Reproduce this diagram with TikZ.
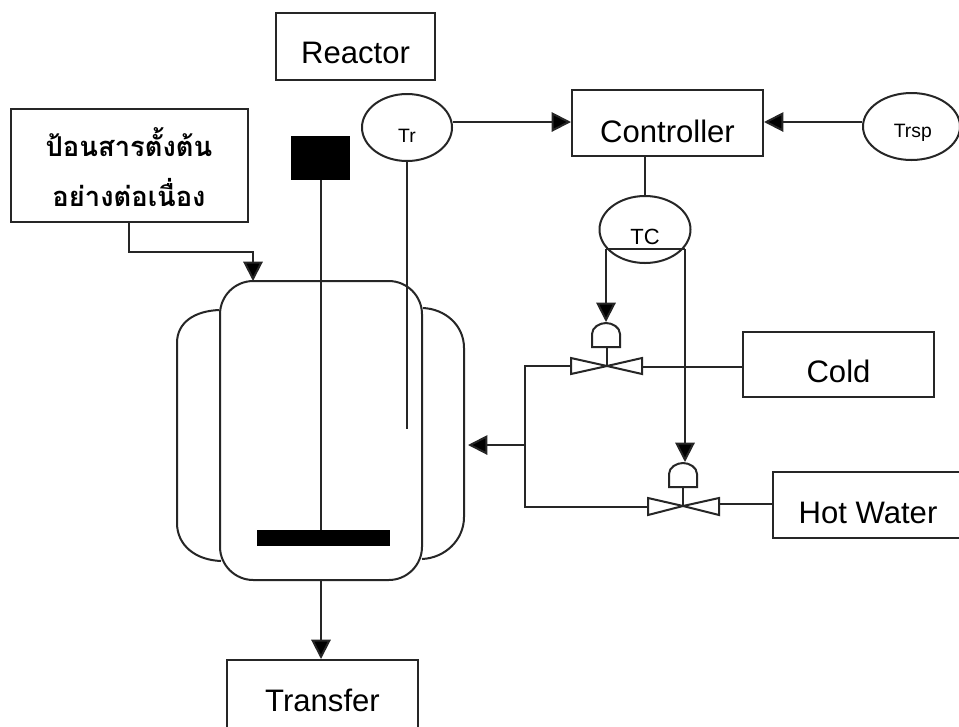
\documentclass[tikz,border=0pt]{standalone}
\usepackage{fontspec}
\setmainfont{Liberation Sans}
\newfontfamily\thaifont[Script=Thai]{Loma}
\usetikzlibrary{shapes.geometric,arrows.meta,calc}
\newcommand{\dropped}[2]{\raisebox{-#1}[\height][\depth]{#2}}
\tikzset{
  line/.style={draw=black!85,line width=1.5pt},
  flow/.style={line,-{Triangle[length=14.5pt,width=14.5pt,fill=black]}},
  boxed/.style={line,rectangle,inner sep=0pt,font=\fontsize{23.3}{26}\selectfont},
  sensor/.style={line,ellipse,inner sep=0pt,font=\fontsize{14.5}{16}\selectfont},
  solid block/.style={fill=black,draw=none,rectangle,inner sep=0pt},
  valvepart/.style={line,fill=white,line join=miter}
}
\begin{document}
\begin{tikzpicture}[x=0.75pt,y=-0.75pt]
\useasboundingbox (0,0) rectangle (959,726);
\fill[white] (0,0) rectangle (959,726);
% boxes
\node[boxed,minimum width=119.25pt,minimum height=50.25pt] (reactor) at (355.5,46.5) {\dropped{5pt}{Reactor}};
\node[boxed,minimum width=143.25pt,minimum height=49.5pt] (controller) at (667.5,123) {\dropped{6.5pt}{Controller}};
\node[boxed,minimum width=177.75pt,minimum height=84.75pt] (feed) at (129,165.5) {};
\node[inner sep=0pt,align=center,font=\thaifont\bfseries\fontsize{20.5}{38}\selectfont] (feedlabel) at (129,167) {ป้อนสารตั้งต้น\\อย่างต่อเนื่อง};
\node[boxed,minimum width=143.25pt,minimum height=48.75pt] (cold) at (838.5,364.5) {\dropped{5.5pt}{Cold}};
\node[boxed,minimum width=142.5pt,minimum height=49.5pt] (hot) at (868,505) {\dropped{6pt}{Hot Water}};
\node[boxed,minimum width=143.25pt,minimum height=60pt] (transfer) at (322.5,700) {Transfer};
% sensors
\node[sensor,minimum width=67.5pt,minimum height=50.25pt] (tr) at (407,127.5) {\dropped{6.4pt}{Tr}};
\node[sensor,minimum width=72.75pt,minimum height=50.25pt] (trsp) at (911.5,126.5) {\dropped{5pt}{\hspace{2pt}Trsp}};
\node[sensor,minimum width=68.25pt,minimum height=50.25pt] (tc) at (645,229.5) {};
\node[inner sep=0pt,font=\fontsize{16.5}{18}\selectfont] (tclabel) at (645,237) {TC};
\coordinate (tcl) at (606,249);
\coordinate (tcr) at (685,249);
\draw[line] (tcl) -- (tcr);
% vessel
\node[line,rectangle,rounded corners=25pt,minimum width=151.5pt,minimum height=224.25pt,inner sep=0pt] (vessel) at (321,430.5) {};
\draw[line] ($(vessel.north west)+(0,30)$) .. controls (195,311) and (177,322) .. (177,343) -- (177,523) .. controls (177,545) and (195,560) .. ($(vessel.south west)+(2,-20)$);
\draw[line] ($(vessel.north east)+(0,28)$) .. controls (445,309) and (464,325) .. (464,348) -- (464,517) .. controls (464,540) and (445,558) .. ($(vessel.south east)+(-1,-22)$);
% agitator
\node[solid block,minimum width=44.25pt,minimum height=33pt] (motor) at (320.5,158) {};
\node[solid block,minimum width=99.75pt,minimum height=12pt] (impeller) at (323.5,538) {};
\draw[line] (motor.south) -- (motor.south |- impeller.north);
\coordinate (probeend) at (407,429);
\draw[line] (tr.south) -- (probeend);
% signal lines
\draw[flow] (tr.east |- 0,122) -- (controller.west |- 0,122);
\draw[flow] (trsp.west |- 0,122) -- (controller.east |- 0,122);
\draw[line] (tc.north |- controller.south) -- (tc.north);
\coordinate (feedbend) at (129,252);
\draw[flow] (feed.south -| feedbend) -- (feedbend) -- (253,252) -- (253,281);
\draw[flow] (vessel.south) -- (vessel.south |- transfer.north);
% valve 1
\coordinate (v1) at (607,366);
\draw[flow] (tcl) -- (606,322);
\draw[valvepart] (592,347) -- (592,334) .. controls (592,327) and (600,323) .. (606,323) .. controls (612,323) and (620,327) .. (620,334) -- (620,347) -- cycle;
\draw[line] (607,347) -- (v1);
\draw[valvepart] (v1) -- (571,358) -- (571,374) -- cycle;
\draw[valvepart] (v1) -- (642,358) -- (642,374) -- cycle;
\draw[line] (642,367) -- (cold.west |- 0,367);
% valve 2
\coordinate (v2) at (683,506);
\draw[flow] (tcr) -- (685,462);
\draw[valvepart] (669,487) -- (669,474) .. controls (669,467) and (677,463) .. (683,463) .. controls (689,463) and (697,467) .. (697,474) -- (697,487) -- cycle;
\draw[line] (683,487) -- (v2);
\draw[valvepart] (v2) -- (648,498) -- (648,515) -- cycle;
\draw[valvepart] (v2) -- (719,498) -- (719,515) -- cycle;
\draw[line] (719,504) -- (hot.west |- 0,504);
% return manifold
\coordinate (mtop) at (525,366);
\coordinate (mbot) at (525,507);
\coordinate (mmid) at (525,445);
\coordinate (jacketin) at (468,445);
\draw[line] (571,366) -- (mtop) -- (mbot) -- (648,507);
\draw[flow] (mmid) -- (jacketin);
\end{tikzpicture}
\end{document}
